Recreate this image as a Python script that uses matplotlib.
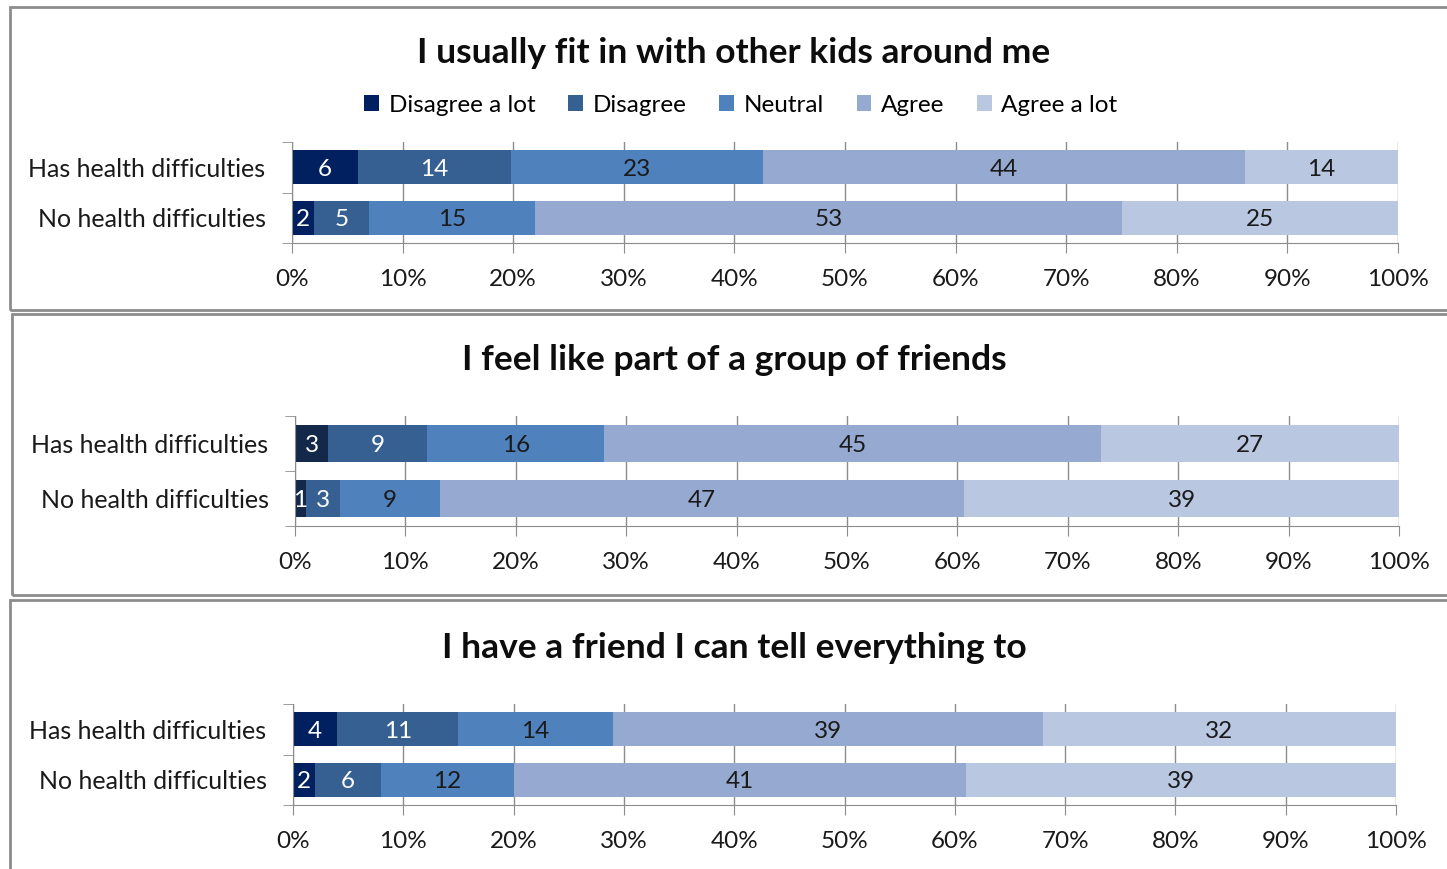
import matplotlib
matplotlib.use("Agg")
import matplotlib.pyplot as plt
from matplotlib.patches import Rectangle, Patch
import numpy as np

plt.rcParams["font.family"] = ["Lato", "DejaVu Sans"]

W, H = 1447, 869

responses = ["Disagree a lot", "Disagree", "Neutral", "Agree", "Agree a lot"]
groups = ["Has health difficulties", "No health difficulties"]

titles = [
    "I usually fit in with other kids around me",
    "I feel like part of a group of friends",
    "I have a friend I can tell everything to",
]

fit_in = [[6, 14, 23, 44, 14], [2, 5, 15, 53, 25]]
group_of_friends = [[3, 9, 16, 45, 27], [1, 3, 9, 47, 39]]
tell_everything = [[4, 11, 14, 39, 32], [2, 6, 12, 41, 39]]
panels = [fit_in, group_of_friends, tell_everything]

colors = ["#002060", "#376092", "#4f81bd", "#95a9d1", "#b9c7e1"]
first_color = ["#002060", "#14284a", "#002060"]
text_colors = ["white", "white", "#1a1a1a", "#1a1a1a", "#1a1a1a"]

fig = plt.figure(figsize=(W / 100, H / 100), dpi=100)


def px_rect(x0, y0, x1, y1):
    # pixel box (top-left origin) -> figure fraction
    return [x0 / W, 1 - y1 / H, (x1 - x0) / W, (y1 - y0) / H]


# panel frames
for (x0, y0, x1, y1) in [(10, 7, 1460, 310), (12, 314, 1460, 595), (10, 600, 1460, 880)]:
    fig.patches.append(Rectangle((x0 / W, 1 - y1 / H), (x1 - x0) / W, (y1 - y0) / H,
                                 transform=fig.transFigure, fill=False,
                                 edgecolor="#8c8c8c", linewidth=2))

# axes placement: (x0%, x100%, top, bottom), title y
layout = [
    ((292, 1398, 142, 243), 53),
    ((295, 1399, 416, 526), 360),
    ((293, 1396, 704, 805), 648),
]

for k, (data, title) in enumerate(zip(panels, titles)):
    (x0, x1, y0, y1), ty = layout[k]
    ax = fig.add_axes(px_rect(x0, y0, x1, y1))
    vals = np.array(data, dtype=float)
    shares = vals / vals.sum(axis=1, keepdims=True) * 100
    left = np.zeros(len(groups))
    ypos = np.arange(len(groups))
    for j in range(len(responses)):
        c = first_color[k] if j == 0 else colors[j]
        ax.barh(ypos, shares[:, j], left=left, height=0.68, color=c,
                edgecolor="none", zorder=2, label=responses[j])
        for i in range(len(groups)):
            ax.text(left[i] + shares[i, j] / 2, ypos[i] + 0.04, str(data[i][j]),
                    ha="center", va="center", fontsize=17.5, color=text_colors[j],
                    zorder=3)
        left += shares[:, j]

    ax.set_xlim(0, 100)
    ax.set_ylim(1.5, -0.5)
    ax.set_xticks(np.arange(0, 101, 10))
    ax.set_xticklabels([f"{t}%" for t in range(0, 101, 10)], fontsize=17.5, color="#1a1a1a")
    ax.set_yticks(ypos)
    ax.set_yticklabels(groups, fontsize=18, color="#1a1a1a")
    ax.set_yticks([-0.5, 0.5, 1.5], minor=True)
    ax.tick_params(axis="y", which="major", length=0, pad=19)
    ax.tick_params(axis="y", which="minor", length=7, color="#8c8c8c")
    ax.tick_params(axis="x", length=7, color="#8c8c8c", pad=12)
    ax.grid(axis="x", color="#8c8c8c", linewidth=1, zorder=0)
    ax.set_axisbelow(True)
    for s in ["top", "right"]:
        ax.spines[s].set_visible(False)
    ax.spines["left"].set_color("#8c8c8c")
    ax.spines["bottom"].set_color("#8c8c8c")

    fig.text(734 / W, 1 - ty / H, title, ha="center", va="center",
             fontsize=25.5, fontweight="bold", color="#0d0d0d")

    if k == 0:
        handles = [Patch(facecolor=colors[j], edgecolor="none") for j in range(len(responses))]
        fig.legend(handles, responses, loc="center", bbox_to_anchor=(741 / W, 1 - 105 / H),
                   ncol=5, frameon=False, fontsize=17.5, handlelength=0.6, handleheight=0.6,
                   handletextpad=0.4, columnspacing=1.35)

fig.savefig("out.png", dpi=100)
